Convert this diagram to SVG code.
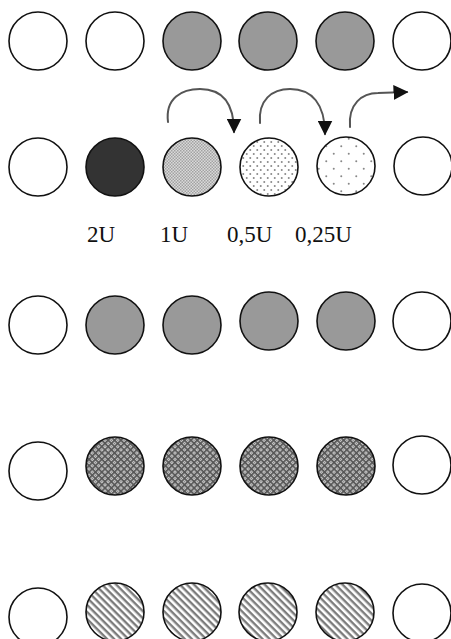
<svg xmlns="http://www.w3.org/2000/svg" width="451" height="639" viewBox="0 0 451 639">
  <style>
    .ball { stroke: #111; stroke-width: 1.6; }
    .empty { fill: #fff; }
    .grey { fill: #999; }
    .dark { fill: #333; }
    .fine { fill: url(#checker); }
    .dense { fill: url(#dotsDense); }
    .sparse { fill: url(#dotsSparse); }
    .hatch { fill: url(#crossHatch); }
    .stripe { fill: url(#stripes); }
    .flow { fill: none; stroke: #555; stroke-width: 2; stroke-linecap: round; }
    .label { font-family: "Liberation Serif", "Times New Roman", serif; font-size: 23px; fill: #111; }
  </style>
  <defs>
    <pattern id="checker" width="3" height="3" patternUnits="userSpaceOnUse">
      <rect width="3" height="3" fill="#dadada"/>
      <rect width="1.5" height="1.5" fill="#a2a2a2"/>
      <rect x="1.5" y="1.5" width="1.5" height="1.5" fill="#a2a2a2"/>
    </pattern>
    <pattern id="dotsDense" width="7" height="8" patternUnits="userSpaceOnUse">
      <rect width="7" height="8" fill="#fff"/>
      <circle cx="1.75" cy="2" r="1" fill="#888"/>
      <circle cx="5.25" cy="6" r="1" fill="#888"/>
    </pattern>
    <pattern id="dotsSparse" width="15" height="15" patternUnits="userSpaceOnUse">
      <rect width="15" height="15" fill="#fff"/>
      <circle cx="3.75" cy="3.75" r="1" fill="#888"/>
      <circle cx="11.25" cy="11.25" r="1" fill="#888"/>
    </pattern>
    <!-- diamond lattice: dark grid lines with light cells -->
    <pattern id="crossHatch" width="4.5" height="4.5" patternUnits="userSpaceOnUse" patternTransform="rotate(45)">
      <rect width="4.5" height="4.5" fill="#c4c4c4"/>
      <rect width="4.5" height="1.6" fill="#555"/>
      <rect width="1.6" height="4.5" fill="#555"/>
      <rect x="2.6" y="2.6" width="1" height="1" fill="#777"/>
    </pattern>
    <pattern id="stripes" width="5" height="5" patternUnits="userSpaceOnUse" patternTransform="rotate(45)">
      <rect width="5" height="5" fill="#fff"/>
      <rect width="5" height="2.4" fill="#7c7c7c"/>
    </pattern>
    <marker id="bigHead" viewBox="0 0 10 10" refX="9" refY="5" markerWidth="15" markerHeight="15" markerUnits="userSpaceOnUse" orient="auto">
      <path d="M0,0 L10,5 L0,10 Z" fill="#111"/>
    </marker>
  </defs>

  <!-- row 1 -->
  <g id="row1">
    <circle class="ball empty" cx="38" cy="41" r="29"/>
    <circle class="ball empty" cx="115" cy="41" r="29"/>
    <circle class="ball grey" cx="192" cy="41" r="29"/>
    <circle class="ball grey" cx="268" cy="41" r="29"/>
    <circle class="ball grey" cx="345" cy="41" r="29"/>
    <circle class="ball empty" cx="422" cy="41" r="29"/>
  </g>

  <!-- transfer arrows -->
  <g id="connectors">
    <path class="flow" d="M168,122 C165,98 182,89 200,89 C222,89 234,103 234,132" marker-end="url(#bigHead)"/>
    <path class="flow" d="M260,123 C258,100 272,89 290,89 C312,89 325,104 325,134" marker-end="url(#bigHead)"/>
    <path class="flow" d="M350,127 C348,104 362,93 378,93 L407,92" marker-end="url(#bigHead)"/>
  </g>

  <!-- row 2 -->
  <g id="row2">
    <circle class="ball empty" cx="38" cy="167" r="29"/>
    <circle class="ball dark" cx="115" cy="167" r="29"/>
    <circle class="ball fine" cx="192" cy="167" r="29"/>
    <circle class="ball dense" cx="269" cy="167" r="29"/>
    <circle class="ball sparse" cx="346" cy="166" r="29"/>
    <circle class="ball empty" cx="423" cy="166" r="29"/>
  </g>

  <g id="labels">
    <text class="label" x="87" y="242">2U</text>
    <text class="label" x="160" y="242">1U</text>
    <text class="label" x="227" y="242">0,5U</text>
    <text class="label" x="295" y="242">0,25U</text>
  </g>

  <!-- row 3 -->
  <g id="row3">
    <circle class="ball empty" cx="38" cy="325" r="29"/>
    <circle class="ball grey" cx="115" cy="325" r="29"/>
    <circle class="ball grey" cx="192" cy="325" r="29"/>
    <circle class="ball grey" cx="269" cy="321" r="29"/>
    <circle class="ball grey" cx="346" cy="321" r="29"/>
    <circle class="ball empty" cx="422" cy="321" r="29"/>
  </g>

  <!-- row 4 -->
  <g id="row4">
    <circle class="ball empty" cx="38" cy="471" r="29"/>
    <circle class="ball hatch" cx="115" cy="466" r="29"/>
    <circle class="ball hatch" cx="192" cy="466" r="29"/>
    <circle class="ball hatch" cx="269" cy="466" r="29"/>
    <circle class="ball hatch" cx="346" cy="466" r="29"/>
    <circle class="ball empty" cx="422" cy="465" r="29"/>
  </g>

  <!-- row 5 -->
  <g id="row5">
    <circle class="ball empty" cx="38" cy="617" r="29"/>
    <circle class="ball stripe" cx="115" cy="612" r="29"/>
    <circle class="ball stripe" cx="192" cy="612" r="29"/>
    <circle class="ball stripe" cx="268" cy="612" r="29"/>
    <circle class="ball stripe" cx="345" cy="612" r="29"/>
    <circle class="ball empty" cx="422" cy="613" r="29"/>
  </g>
</svg>
